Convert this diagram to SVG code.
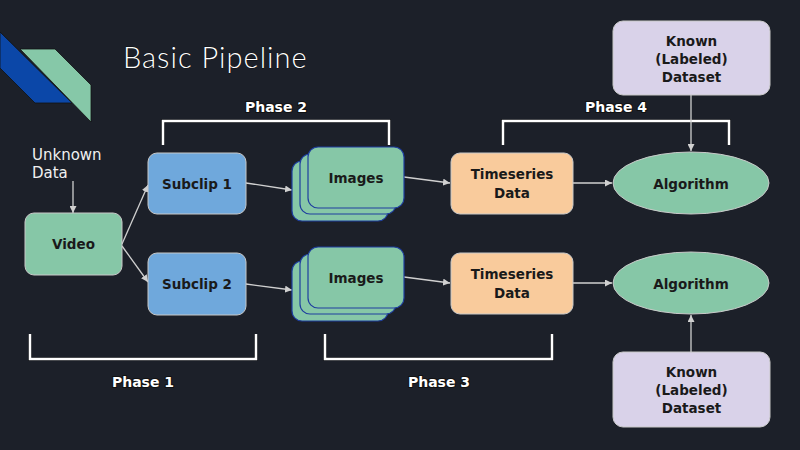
<svg xmlns="http://www.w3.org/2000/svg" width="800" height="450" viewBox="0 0 800 450">
<defs>
<marker id="ah" viewBox="0 0 10 10" refX="10" refY="5" markerWidth="7" markerHeight="7" markerUnits="userSpaceOnUse" orient="auto">
<path d="M0,0 L10,5 L0,10 z" fill="#d0d0d0"/>
</marker>
<style>
.lbl{font-family:"DejaVu Sans","Liberation Sans",sans-serif;font-weight:bold;font-size:13.5px;fill:#1a1a1a;text-anchor:middle;dominant-baseline:central}
.ph{font-family:"DejaVu Sans","Liberation Sans",sans-serif;font-weight:bold;font-size:14px;fill:#ffffff;text-anchor:middle;dominant-baseline:central;stroke:#111;stroke-width:2;paint-order:stroke}
.br{fill:none;stroke:#ffffff;stroke-width:2.5}
.brs{fill:none;stroke:#0d0f14;stroke-width:4}
.cn{fill:none;stroke:#d0d0d0;stroke-width:1.3;marker-end:url(#ah)}
.nd{stroke:#c8c8c8;stroke-width:1}
.img{fill:#86c7a7;stroke:#1f3f9f;stroke-width:1.2}
.unk{font-family:"DejaVu Sans","Liberation Sans",sans-serif;font-size:15px;fill:#f0f0f0}
</style>
</defs>
<rect width="800" height="450" fill="#1c2029"/>
<g id="logo">
<polygon points="0,32 72,103 35,103 0,68" fill="#0b47a8" stroke="#111" stroke-width="0.8"/>
<polygon points="20,49 55,49 91,85 91,122" fill="#86c8a8" stroke="#111" stroke-width="0.8"/>
</g>
<text x="123" y="68" font-family="Lato,'Noto Sans',sans-serif" font-weight="300" font-size="29" letter-spacing="1" fill="#ffffff" stroke="#000" stroke-width="0.6" paint-order="stroke">Basic Pipeline</text>
<g id="brackets">
<polyline class="brs" points="163,145 163,121 389,121 389,145"/>
<polyline class="br" points="163,145 163,121 389,121 389,145"/>
<polyline class="brs" points="503,145 503,121 729,121 729,145"/>
<polyline class="br" points="503,145 503,121 729,121 729,145"/>
<polyline class="brs" points="30,334 30,359 256,359 256,334"/>
<polyline class="br" points="30,334 30,359 256,359 256,334"/>
<polyline class="brs" points="325,334 325,359 552,359 552,334"/>
<polyline class="br" points="325,334 325,359 552,359 552,334"/>
<text class="ph" x="276" y="107">Phase 2</text>
<text class="ph" x="616" y="107">Phase 4</text>
<text class="ph" x="143" y="382">Phase 1</text>
<text class="ph" x="439" y="382">Phase 3</text>
</g>
<g id="unknown">
<text class="unk" x="32" y="160">Unknown</text>
<text class="unk" x="32" y="178">Data</text>
</g>
<g id="connectors">
<line class="cn" x1="73" y1="181" x2="73" y2="213"/>
<line class="cn" x1="122" y1="244" x2="148" y2="185"/>
<line class="cn" x1="122" y1="246" x2="148" y2="282"/>
<line class="cn" x1="246" y1="183" x2="292" y2="190"/>
<line class="cn" x1="246" y1="284" x2="292" y2="290"/>
<line class="cn" x1="404" y1="177" x2="450" y2="183"/>
<line class="cn" x1="404" y1="277" x2="450" y2="283"/>
<line class="cn" x1="573" y1="183" x2="612" y2="183"/>
<line class="cn" x1="573" y1="283" x2="612" y2="283"/>
<line class="cn" x1="691" y1="95" x2="691" y2="151"/>
<line class="cn" x1="691" y1="352" x2="691" y2="315"/>
</g>
<g id="video">
<rect class="nd" x="25" y="213" width="97" height="62" rx="9" fill="#86c7a7"/>
<text class="lbl" x="73.5" y="244">Video</text>
</g>
<g id="subclip1">
<rect class="nd" x="148" y="153" width="98" height="61" rx="9" fill="#6fa8dc"/>
<text class="lbl" x="197" y="184">Subclip 1</text>
</g>
<g id="subclip2">
<rect class="nd" x="148" y="253" width="98" height="62" rx="9" fill="#6fa8dc"/>
<text class="lbl" x="197" y="284">Subclip 2</text>
</g>
<g id="images1">
<rect class="img" x="292" y="161" width="96" height="60" rx="10"/>
<rect class="img" x="300" y="154" width="96" height="60" rx="10"/>
<rect class="img" x="308" y="147" width="96" height="61" rx="10"/>
<text class="lbl" x="356" y="178">Images</text>
</g>
<g id="images2">
<rect class="img" x="292" y="261" width="96" height="60" rx="10"/>
<rect class="img" x="300" y="254" width="96" height="60" rx="10"/>
<rect class="img" x="308" y="247" width="96" height="61" rx="10"/>
<text class="lbl" x="356" y="278">Images</text>
</g>
<g id="timeseries1">
<rect class="nd" x="451" y="153" width="122" height="61" rx="9" fill="#f9cb9c"/>
<text class="lbl" x="512" y="174">Timeseries</text>
<text class="lbl" x="512" y="193">Data</text>
</g>
<g id="timeseries2">
<rect class="nd" x="451" y="253" width="122" height="61" rx="9" fill="#f9cb9c"/>
<text class="lbl" x="512" y="274">Timeseries</text>
<text class="lbl" x="512" y="293">Data</text>
</g>
<g id="algorithm1">
<ellipse class="nd" cx="691" cy="183" rx="78" ry="31" fill="#86c7a7"/>
<text class="lbl" x="691" y="184">Algorithm</text>
</g>
<g id="algorithm2">
<ellipse class="nd" cx="691" cy="283" rx="78" ry="31" fill="#86c7a7"/>
<text class="lbl" x="691" y="284">Algorithm</text>
</g>
<g id="known1">
<rect class="nd" x="613" y="21" width="157" height="74" rx="10" fill="#d9d2e9"/>
<text class="lbl" x="691.5" y="41">Known</text>
<text class="lbl" x="691.5" y="59">(Labeled)</text>
<text class="lbl" x="691.5" y="77">Dataset</text>
</g>
<g id="known2">
<rect class="nd" x="613" y="352" width="157" height="75" rx="10" fill="#d9d2e9"/>
<text class="lbl" x="691.5" y="372">Known</text>
<text class="lbl" x="691.5" y="390">(Labeled)</text>
<text class="lbl" x="691.5" y="408">Dataset</text>
</g>
</svg>
